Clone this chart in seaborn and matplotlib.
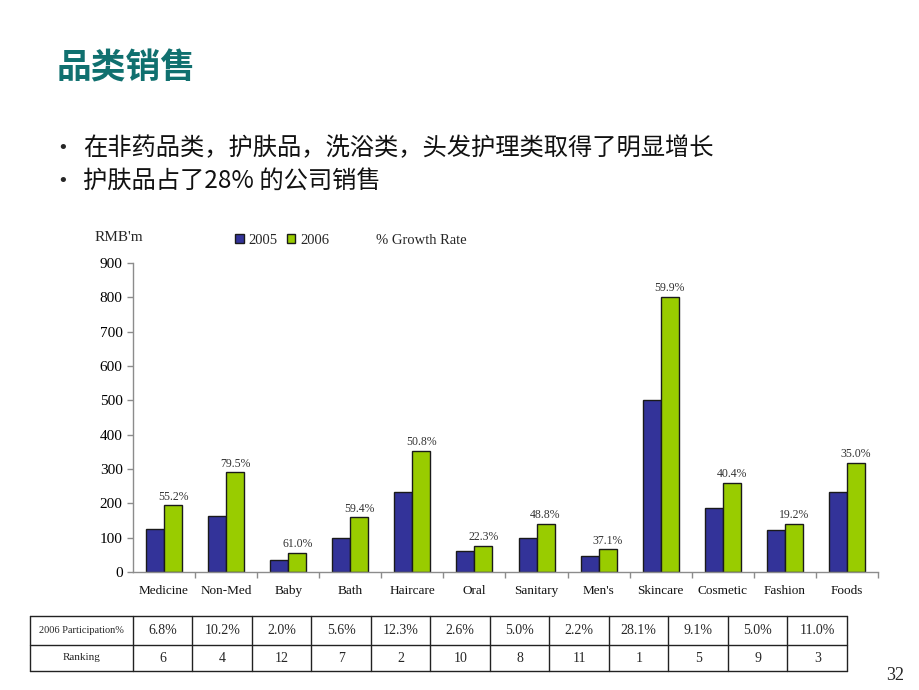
import matplotlib
matplotlib.use('Agg')
import matplotlib.pyplot as plt
import pandas as pd
import seaborn as sns
from matplotlib.ticker import FixedLocator

# Chart data
categories = ['Medicine', 'Non-Med', 'Baby', 'Bath', 'Haircare', 'Oral',
              'Sanitary', "Men's", 'Skincare', 'Cosmetic', 'Fashion', 'Foods']
sales_2005 = [126, 163, 34, 100, 233, 62, 98, 48, 500, 187, 122, 233]
sales_2006 = [194, 290, 55, 159, 353, 75, 141, 66, 802, 260, 141, 317]
growth = ['55.2%', '79.5%', '61.0%', '59.4%', '50.8%', '22.3%',
          '48.8%', '37.1%', '59.9%', '40.4%', '19.2%', '35.0%']
participation = ['6.8%', '10.2%', '2.0%', '5.6%', '12.3%', '2.6%',
                 '5.0%', '2.2%', '28.1%', '9.1%', '5.0%', '11.0%']
ranking = [6, 4, 12, 7, 2, 10, 8, 11, 1, 5, 9, 3]
years = ['2005', '2006']
yticks = [0, 100, 200, 300, 400, 500, 600, 700, 800, 900]

title = '品类销售'
bullets = ['在非药品类，护肤品，洗浴类，头发护理类取得了明显增长',
           '护肤品占了28% 的公司销售']

sns.set_theme(style='white')
plt.rcParams['font.family'] = ['Liberation Serif', 'DejaVu Serif']
cjk = ['Noto Sans CJK SC', 'DejaVu Sans']

# Long-form table for seaborn
df = pd.DataFrame({
    'category': categories * 2,
    'year': [years[0]] * len(categories) + [years[1]] * len(categories),
    'sales': sales_2005 + sales_2006,
})

W, H = 920, 690
fig = plt.figure(figsize=(W / 100, H / 100), dpi=100)
fig.patch.set_facecolor('white')

# Slide heading and bullets
fig.text(57 / W, 1 - 68 / H, title, family=cjk, fontsize=25, fontweight='bold',
         color='#10706F', va='center', ha='left')
for k, line in enumerate(bullets):
    y = 1 - (148 + 33 * k) / H
    fig.text(57 / W, y, '•', family='DejaVu Sans', fontsize=13, va='center',
             ha='left')
    fig.text(83 / W, y, line, family=cjk, fontsize=17.5, va='center', ha='left',
             color='#111111')

# Bar chart
ax = fig.add_axes([133 / W, 1 - 572 / H, 745 / W, 309 / H])
sns.barplot(data=df, x='category', y='sales', hue='year',
            palette=['#333399', '#99CC00'], saturation=1, width=0.58, gap=0,
            edgecolor='#1a1a1a', linewidth=1, ax=ax)
ax.set_xlim(-0.5, len(categories) - 0.5)
ax.set_ylim(0, 900)
ax.set_yticks(yticks)
ax.set_xlabel('')
ax.set_ylabel('')
for s in ['top', 'right']:
    ax.spines[s].set_visible(False)
for s in ['left', 'bottom']:
    ax.spines[s].set_color('#8c8c8c')
    ax.spines[s].set_linewidth(1)
ax.tick_params(axis='y', direction='out', length=4, width=1, color='#8c8c8c',
               pad=3.5, labelsize=11, labelcolor='black', left=True)
ax.tick_params(axis='x', which='major', length=0, pad=16, labelsize=9.5,
               labelcolor='#111111')
for lab in ax.get_xticklabels():
    lab.set_va('baseline')
ax.xaxis.set_minor_locator(FixedLocator([i + 0.5 for i in range(len(categories))]))
ax.tick_params(axis='x', which='minor', direction='out', length=4, width=1,
               color='#8c8c8c', bottom=True)

ax.bar_label(ax.containers[1], labels=growth, padding=2, fontsize=8.5,
             color='#333333')

handles, labels = ax.get_legend_handles_labels()
ax.legend_.remove()
fig.legend(handles, labels, loc='center left',
           bbox_to_anchor=(235 / W, 1 - 240 / H), frameon=False, ncol=2,
           fontsize=10.5, handlelength=0.6, handleheight=0.6,
           handletextpad=0.35, columnspacing=0.6, borderpad=0, borderaxespad=0)

fig.text(95 / W, 1 - 238 / H, "RMB'm", fontsize=11, va='center', ha='left')
fig.text(376 / W, 1 - 241 / H, '% Growth Rate', fontsize=10.5, va='center',
         ha='left')

# Participation / ranking table under the chart
tx0, tx1, ty0, ty1 = 30, 847, 616, 671
ymid = 645
tax = fig.add_axes([tx0 / W, 1 - ty1 / H, (tx1 - tx0) / W, (ty1 - ty0) / H])
tax.set_xlim(tx0, tx1)
tax.set_ylim(ty1, ty0)
tax.axis('off')
first = 133
colw = (tx1 - first) / len(categories)
bounds = [tx0, first] + [first + colw * (k + 1) for k in range(len(categories))]
for xb in bounds:
    tax.plot([xb, xb], [ty0, ty1], color='#222222', lw=1, clip_on=False)
for yb in [ty0, ymid, ty1]:
    tax.plot([tx0, tx1], [yb, yb], color='#222222', lw=1, clip_on=False)
r1 = (ty0 + ymid) / 2
r2 = (ymid + ty1) / 2
tax.text((tx0 + first) / 2, r1, '2006 Participation%', fontsize=7.5,
         ha='center', va='center')
tax.text((tx0 + first) / 2, r2, 'Ranking', fontsize=8, ha='center', va='center')
for k in range(len(categories)):
    cx = first + colw * (k + 0.5)
    tax.text(cx, r1, participation[k], fontsize=10, ha='center', va='center')
    tax.text(cx, r2, str(ranking[k]), fontsize=10, ha='center', va='center')

fig.text(895 / W, 1 - 676 / H, '32', fontsize=13, ha='center', va='center')

fig.savefig('out.png', dpi=100)
